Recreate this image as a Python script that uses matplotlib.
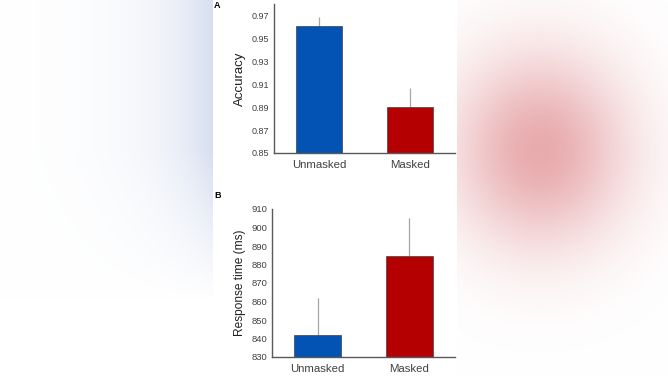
import numpy as np
import matplotlib
matplotlib.use('Agg')
import matplotlib.pyplot as plt

conditions = ['Unmasked', 'Masked']
accuracy = [0.961, 0.890]
accuracy_err = [0.008, 0.017]
rt = [842, 884.5]
rt_err = [20, 20.5]
acc_ticks = [0.85, 0.87, 0.89, 0.91, 0.93, 0.95, 0.97]
rt_ticks = [830, 840, 850, 860, 870, 880, 890, 900, 910]

bar_colors = ['#0253b3', '#b40000']
W, H = 668, 376

plt.rcParams['font.family'] = ['Liberation Sans', 'DejaVu Sans']
fig = plt.figure(figsize=(W / 100, H / 100), dpi=100)

# blurred background: bluish fade on the left, pink blob on the right
yy, xx = np.mgrid[0:H, 0:W].astype(float)
bg = np.ones((H, W, 3))
blue = np.exp(-(213 - xx) / 50.0) * np.clip(1 - (yy - 150) / 150.0, 0, 1) * (xx < 213)
blue = np.clip(blue, 0, 1)
bg[..., 0] -= 0.16 * blue
bg[..., 1] -= 0.13 * blue
bg[..., 2] -= 0.06 * blue
pink = np.exp(-(((xx - 540) / 62.0) ** 2 + ((yy - 150) / 68.0) ** 2) / 2) * (xx > 456)
bg[..., 0] -= 0.09 * pink
bg[..., 1] -= 0.33 * pink
bg[..., 2] -= 0.32 * pink
bg_ax = fig.add_axes([0, 0, 1, 1])
bg_ax.imshow(np.clip(bg, 0, 1), extent=[0, W, H, 0], aspect='auto')
bg_ax.axis('off')


def style(ax):
    for s in ['top', 'right']:
        ax.spines[s].set_visible(False)
    for s in ['left', 'bottom']:
        ax.spines[s].set_color('#595959')
        ax.spines[s].set_linewidth(1)
    ax.tick_params(length=0, colors='#404040')
    ax.set_xlim(-0.5, 1.5)
    ax.patch.set_alpha(0)


x = np.arange(len(conditions))

ax1 = fig.add_axes([274 / W, 1 - 153 / H, 181 / W, 149 / H])
ax1.bar(x, accuracy, width=0.51, color=bar_colors, edgecolor='#404040', linewidth=0.5, zorder=2)
ax1.errorbar(x, accuracy, yerr=[[0, 0], accuracy_err], fmt='none', ecolor='#a6a6a6', elinewidth=0.9, capsize=0, zorder=1)
ax1.set_ylim(0.85, 0.98)
ax1.set_yticks(acc_ticks)
ax1.set_yticklabels(['%.2f' % t for t in acc_ticks], fontsize=6.5)
ax1.set_xticks(x)
ax1.set_xticklabels(conditions, fontsize=8.2, color='#202020')
ax1.tick_params(axis='x', pad=5)
ax1.set_ylabel('Accuracy', fontsize=9.5, color='#202020', labelpad=4)
style(ax1)

ax2 = fig.add_axes([272 / W, 1 - 357 / H, 183 / W, 148 / H])
ax2.bar(x, rt, width=0.51, color=bar_colors, edgecolor='#404040', linewidth=0.5, zorder=2)
ax2.errorbar(x, rt, yerr=[[0, 0], rt_err], fmt='none', ecolor='#a6a6a6', elinewidth=0.9, capsize=0, zorder=1)
ax2.set_ylim(830, 910)
ax2.set_yticks(rt_ticks)
ax2.set_yticklabels([str(t) for t in rt_ticks], fontsize=6.8)
ax2.set_xticks(x)
ax2.set_xticklabels(conditions, fontsize=8.2, color='#202020')
ax2.tick_params(axis='x', pad=5)
ax2.set_ylabel('Response time (ms)', fontsize=8.6, color='#202020', labelpad=4)
style(ax2)

fig.text(214 / W, 1 - 5 / H, 'A', fontsize=6.5, fontweight='bold', va='center', ha='left')
fig.text(214 / W, 1 - 196 / H, 'B', fontsize=6.5, fontweight='bold', va='center', ha='left')

fig.savefig('out.png', dpi=100)
